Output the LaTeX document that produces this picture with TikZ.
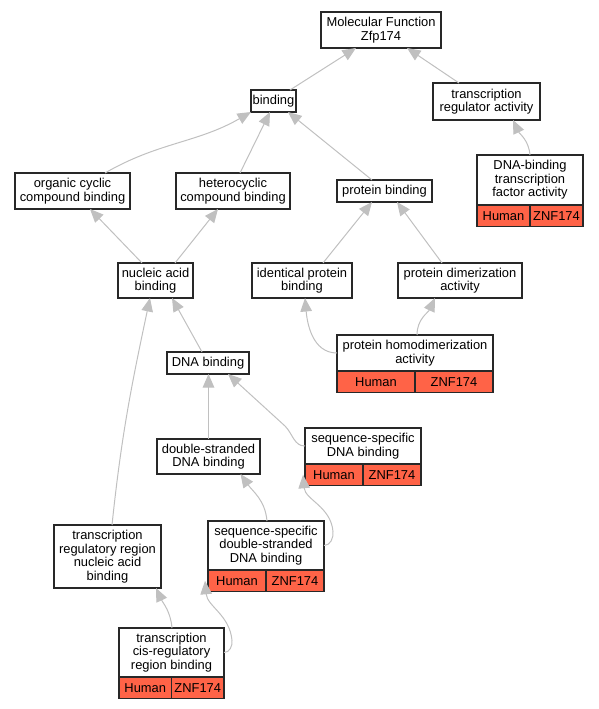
\documentclass[tikz,border=0pt]{standalone}
\usepackage{fontspec}
\setmainfont{Liberation Sans}
\usepackage{tikz}
\usetikzlibrary{positioning,arrows.meta,calc}
\definecolor{tomato}{RGB}{255,99,71}
\definecolor{edgegray}{RGB}{192,192,192}
\definecolor{boxline}{RGB}{40,40,40}

\tikzset{
    term/.style={draw=boxline, line width=1.3pt, fill=white, align=center,
        inner sep=0pt, outer sep=0pt, font=\fontsize{12.9}{13.6}\selectfont},
    gene/.style={draw=boxline, line width=1.3pt, fill=tomato, inner sep=0pt,
        outer sep=0pt, minimum height=21.5pt, font=\fontsize{12.9}{13.6}\selectfont},
    isa/.style={draw=edgegray, line width=1pt, -{Triangle[length=13.5pt,width=11.5pt]}}
}

\begin{document}
\begin{tikzpicture}[x=1pt, y=-1pt]
    \useasboundingbox (0,0) rectangle (599,709);

    % Terms
    \node[term, minimum width=120pt, minimum height=36pt] (mf) at (381,30) {Molecular Function\\Zfp174};
    \node[term, minimum width=45pt, minimum height=22pt] (bind) at (273.5,101) {binding};
    \node[term, minimum width=107pt, minimum height=37pt] (tra) at (486.5,101.5) {transcription\\regulator activity};
    \node[term, minimum width=106pt, minimum height=50pt] (dbtf) at (530,180) {DNA-binding\\transcription\\factor activity};
    \node[term, minimum width=95pt, minimum height=22pt] (pb) at (384.5,191) {protein binding};
    \node[term, minimum width=115pt, minimum height=36pt] (org) at (72.5,191) {organic cyclic\\compound binding};
    \node[term, minimum width=114pt, minimum height=36pt] (het) at (233,191) {heterocyclic\\compound binding};
    \node[term, minimum width=75pt, minimum height=35pt] (nuc) at (155.5,280.5) {nucleic acid\\binding};
    \node[term, minimum width=100pt, minimum height=35pt] (ident) at (302,280.5) {identical protein\\binding};
    \node[term, minimum width=124pt, minimum height=35pt] (dim) at (460,280.5) {protein dimerization\\activity};
    \node[term, minimum width=156pt, minimum height=36pt] (homo) at (415,353) {protein homodimerization\\activity};
    \node[term, minimum width=82pt, minimum height=22pt] (dna) at (208,363) {DNA binding};
    \node[term, minimum width=103pt, minimum height=35pt] (ds) at (208.5,456.5) {double-stranded\\DNA binding};
    \node[term, minimum width=116pt, minimum height=36pt] (ssdna) at (363,446) {sequence-specific\\DNA binding};
    \node[term, minimum width=116pt, minimum height=49pt] (ssds) at (266,545.5) {sequence-specific\\double-stranded\\DNA binding};
    \node[term, minimum width=107pt, minimum height=63pt] (trreg) at (107.5,556.5) {transcription\\regulatory region\\nucleic acid\\binding};
    \node[term, minimum width=105pt, minimum height=49pt] (cis) at (171.5,652.5) {transcription\\cis-regulatory\\region binding};

    % Annotation rows
    \foreach \t/\w in {dbtf/53, homo/78, ssdna/58, ssds/58, cis/52.5} {
        \node[gene, minimum width=\w pt, anchor=north west] (\t-h) at (\t.south west) {Human};
        \node[gene, minimum width=\w pt, anchor=north east] (\t-z) at (\t.south east) {ZNF174};
    }

    % is_a edges
    \draw[isa] ([xshift=-6pt]bind.north east) -- ([xshift=-25pt]mf.south);
    \draw[isa] ([xshift=-27.5pt]tra.north) -- ([xshift=26pt]mf.south);
    \draw[isa] (dbtf.north) to[out=95, in=-65] ([xshift=26.5pt]tra.south);
    \draw[isa] ([xshift=32.5pt]org.north) to[out=30, in=-150] (bind.south west);
    \draw[isa] ([xshift=7pt]het.north) -- ([xshift=-3.5pt]bind.south);
    \draw[isa] ([xshift=-12.5pt]pb.north) -- ([xshift=14.5pt]bind.south);
    \draw[isa] ([xshift=-13.5pt]nuc.north) -- ([xshift=17.5pt]org.south);
    \draw[isa] ([xshift=19.5pt]nuc.north) -- ([xshift=-15pt]het.south);
    \draw[isa] ([xshift=21pt]ident.north) -- ([xshift=-12.5pt]pb.south);
    \draw[isa] ([xshift=-18pt]dim.north) -- ([xshift=12.5pt]pb.south);
    \draw[isa] (homo.west) to[out=180, in=-85] ([xshift=3pt]ident.south);
    \draw[isa] ([xshift=2pt]homo.north) to[out=90, in=-115] ([xshift=-25pt]dim.south);
    \draw[isa] ([xshift=-6pt]dna.north) -- ([xshift=16.5pt]nuc.south);
    \draw[isa] ([xshift=4.5pt]trreg.north) to[out=84, in=-102] ([xshift=-5.5pt]nuc.south);
    \draw[isa] (ds.north) -- (ds.north |- dna.south);
    \draw[isa] (ssdna.west) to[out=180, in=-45] ++(-20,-20) -- ([xshift=20pt]dna.south);
    \draw[isa] ([xshift=1pt]ssds.north) to[out=95, in=-55] ([xshift=32pt]ds.south);
    \draw[isa] (ssds.east) to[out=0, in=-85] ++(9,-14) to[out=95, in=-85] ([xshift=-2pt]ssdna-h.west);
    \draw[isa] ([xshift=0.5pt]cis.north) to[out=95, in=-65] ([xshift=48.5pt]trreg.south);
    \draw[isa] (cis.east) to[out=0, in=-85] ++(8,-12) to[out=95, in=-85] ([xshift=-3pt]ssds-h.west);
\end{tikzpicture}
\end{document}
